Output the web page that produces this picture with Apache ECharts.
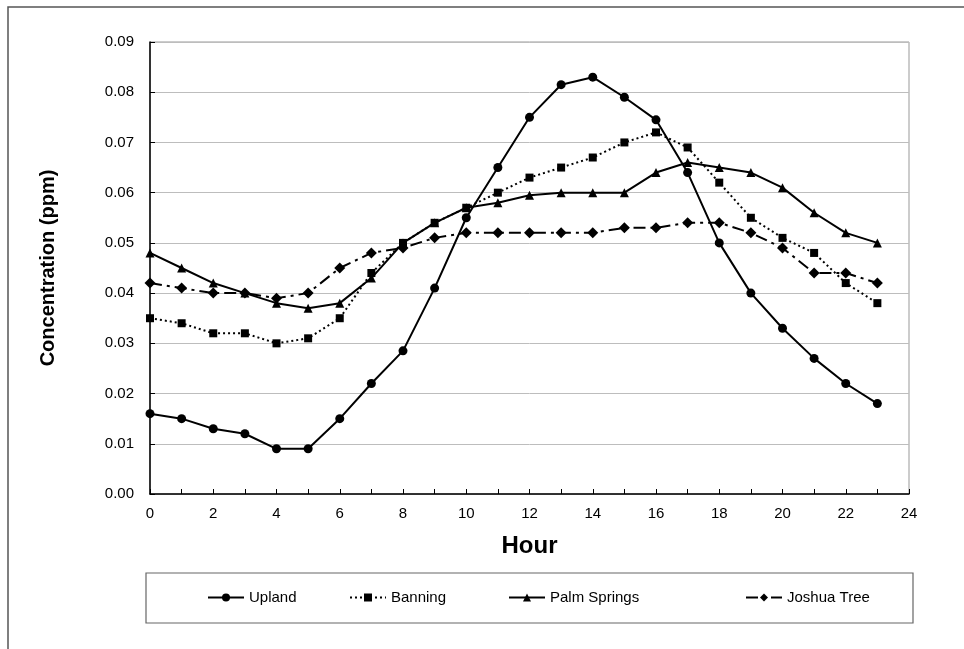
<!DOCTYPE html>
<html>
<head>
<meta charset="utf-8">
<script src="https://cdn.jsdelivr.net/npm/echarts@6/dist/echarts.min.js"></script>
<style>
html,body{margin:0;padding:0;background:#fff;}
#c{width:964px;height:649px;}
</style>
</head>
<body>
<div id="c"></div>
<script>
var hours = [0,1,2,3,4,5,6,7,8,9,10,11,12,13,14,15,16,17,18,19,20,21,22,23];
var seriesNames = ['Upland','Banning','Palm Springs','Joshua Tree'];
var upland = [0.016,0.015,0.013,0.012,0.009,0.009,0.015,0.022,0.0285,0.041,0.055,0.065,0.075,0.0815,0.083,0.079,0.0745,0.064,0.050,0.040,0.033,0.027,0.022,0.018];
var banning = [0.035,0.034,0.032,0.032,0.030,0.031,0.035,0.044,0.050,0.054,0.057,0.060,0.063,0.065,0.067,0.070,0.072,0.069,0.062,0.055,0.051,0.048,0.042,0.038];
var palmSprings = [0.048,0.045,0.042,0.040,0.038,0.037,0.038,0.043,0.050,0.054,0.057,0.058,0.0595,0.060,0.060,0.060,0.064,0.066,0.065,0.064,0.061,0.056,0.052,0.050];
var joshuaTree = [0.042,0.041,0.040,0.040,0.039,0.040,0.045,0.048,0.049,0.051,0.052,0.052,0.052,0.052,0.052,0.053,0.053,0.054,0.054,0.052,0.049,0.044,0.044,0.042];
var yTicks = ['0.00','0.01','0.02','0.03','0.04','0.05','0.06','0.07','0.08','0.09'];

function pairs(vals){ return hours.map(function(h,i){ return [h, vals[i]]; }); }

var FONT = '"Liberation Sans", Arial, sans-serif';
var chart = echarts.init(document.getElementById('c'), null, {renderer:'canvas'});

function mkLegend(name, left){
  return {
    data:[name], left:left, top:590, itemWidth:36, itemHeight:10,
    textStyle:{fontFamily:FONT, fontSize:15, color:'#000'},
    selectedMode:false, padding:0
  };
}

var option = {
  backgroundColor:'#fff',
  animation:false,
  graphic:[
    {type:'rect', shape:{x:8, y:7, width:2000, height:2000}, style:{fill:'none', stroke:'#555', lineWidth:1.5}, silent:true, z:-1},
    {type:'rect', shape:{x:146, y:573, width:767, height:50}, style:{fill:'#fff', stroke:'#666', lineWidth:1.2}, silent:true, z:-1}
  ],
  legend:[
    mkLegend('Upland', 207),
    mkLegend('Banning', 349),
    mkLegend('Palm Springs', 508),
    mkLegend('Joshua Tree', 745)
  ],
  grid:{left:150, right:55, top:42, bottom:155, show:true, borderColor:'#999', borderWidth:1, containLabel:false},
  xAxis:{
    type:'value', min:0, max:24, interval:1,
    name:'Hour', nameLocation:'middle', nameGap:40,
    nameTextStyle:{fontFamily:FONT, fontSize:24, fontWeight:'bold', color:'#000'},
    axisLine:{show:true, onZero:false, lineStyle:{color:'#000', width:1.5}},
    axisTick:{show:true, inside:true, length:5, lineStyle:{color:'#000'}},
    axisLabel:{fontFamily:FONT, fontSize:15, color:'#000', margin:12,
      formatter:function(v){ return v % 2 === 0 ? String(v) : ''; }},
    splitLine:{show:false}
  },
  yAxis:{
    type:'value', min:0, max:0.09, interval:0.01,
    name:'Concentration (ppm)', nameLocation:'middle', nameGap:92,
    nameTextStyle:{fontFamily:FONT, fontSize:20, fontWeight:'bold', color:'#000'},
    axisLine:{show:true, lineStyle:{color:'#000', width:1.5}},
    axisTick:{show:true, inside:true, length:5, lineStyle:{color:'#000'}},
    axisLabel:{fontFamily:FONT, fontSize:15, color:'#000', margin:16,
      formatter:function(v){ return yTicks[Math.round(v*100)]; }},
    splitLine:{show:true, lineStyle:{color:'#bdbdbd', width:1}}
  },
  series:[
    {name:seriesNames[0], type:'line', data:pairs(upland), symbol:'circle', symbolSize:9,
      itemStyle:{color:'#000'}, lineStyle:{color:'#000', width:2, type:'solid'}},
    {name:seriesNames[1], type:'line', data:pairs(banning), symbol:'rect', symbolSize:8,
      itemStyle:{color:'#000'}, lineStyle:{color:'#000', width:2, type:[2,3]}},
    {name:seriesNames[2], type:'line', data:pairs(palmSprings), symbol:'triangle', symbolSize:9,
      itemStyle:{color:'#000'}, lineStyle:{color:'#000', width:2, type:'solid'}},
    {name:seriesNames[3], type:'line', data:pairs(joshuaTree), symbol:'diamond', symbolSize:11,
      itemStyle:{color:'#000'}, lineStyle:{color:'#000', width:2, type:[12,5,3,5]}}
  ]
};
chart.setOption(option);
</script>
</body>
</html>
